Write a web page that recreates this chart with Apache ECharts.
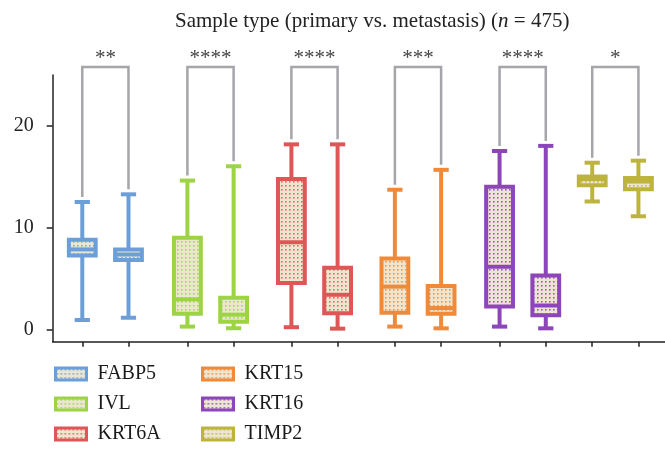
<!DOCTYPE html>
<html>
<head>
<meta charset="utf-8">
<script src="https://cdn.jsdelivr.net/npm/echarts@6/dist/echarts.min.js"></script>
<style>
  html, body { margin: 0; padding: 0; background: #ffffff; }
  #chart { width: 665px; height: 454px; }
</style>
</head>
<body>
<div id="chart"></div>
<script>
// Genes compared between primary tumours and metastases
const genes = ['FABP5', 'IVL', 'KRT6A', 'KRT15', 'KRT16', 'TIMP2'];
const geneColors = ['#6c9fd8', '#9cd444', '#e05656', '#ef8a3a', '#8d45ba', '#bdb43e'];

// Five-number summaries per gene: [min, q1, median, q3, max]
const primary = [
  [0.98, 7.3, 7.9, 8.85, 12.55],
  [0.33, 1.6, 3.0, 9.05, 14.65],
  [0.27, 4.6, 8.6, 14.8, 18.2],
  [0.33, 1.7, 4.25, 7.0, 13.75],
  [0.33, 2.3, 6.2, 14.05, 17.55],
  [12.6, 14.2, 14.8, 15.05, 16.4]
];
const metastasis = [
  [1.2, 6.85, 7.4, 7.9, 13.3],
  [0.17, 0.8, 1.5, 3.15, 16.05],
  [0.13, 1.65, 3.45, 6.1, 18.2],
  [0.16, 1.6, 2.15, 4.3, 15.7],
  [0.16, 1.45, 2.4, 5.35, 18.05],
  [11.15, 13.8, 14.55, 14.9, 16.6]
];
const significance = ['**', '****', '****', '***', '****', '*'];
const yTicks = [0, 10, 20];

// Layout of the x scale: centre of each gene's pair and half the pair spacing
const groupCenters = [1.14, 3.415, 5.665, 7.905, 10.17, 12.175];
const pairOffset = 0.5;
const boxWidth = 0.58;
const capWidth = 0.33;
const strokeW = 4;
const serif = '"Liberation Serif", "DejaVu Serif", serif';

function dotPattern(color) {
  const c = document.createElement('canvas');
  c.width = 4; c.height = 4;
  const g = c.getContext('2d');
  g.fillStyle = '#ece5d0';
  g.fillRect(0, 0, 4, 4);
  g.globalAlpha = 0.85;
  g.fillStyle = color;
  g.fillRect(1, 1, 1.6, 1.6);
  return { image: c, repeat: 'repeat' };
}
const patterns = geneColors.map(dotPattern);

const tickPositions = [];
groupCenters.forEach(c => { tickPositions.push(c - pairOffset, c + pairOffset); });

function boxRenderer(gi) {
  const color = geneColors[gi];
  return function (params, api) {
    const xv = api.value(0);
    const cx = api.coord([xv, 0])[0];
    const py = v => api.coord([xv, v])[1];
    const yMin = py(api.value(1)), yQ1 = py(api.value(2)), yMed = py(api.value(3));
    const yQ3 = py(api.value(4)), yMax = py(api.value(5));
    const w = api.size([boxWidth, 0])[0];
    const cw = api.size([capWidth, 0])[0];
    const line = (x1, y1, x2, y2) => ({
      type: 'line', shape: { x1, y1, x2, y2 },
      style: { stroke: color, lineWidth: strokeW, lineCap: 'butt' }
    });
    return {
      type: 'group',
      children: [
        line(cx, yMax, cx, yQ3),
        line(cx, yQ1, cx, yMin),
        line(cx - cw / 2, yMax, cx + cw / 2, yMax),
        line(cx - cw / 2, yMin, cx + cw / 2, yMin),
        {
          type: 'rect',
          shape: { x: cx - w / 2, y: yQ3, width: w, height: yQ1 - yQ3 },
          style: { fill: patterns[gi], stroke: color, lineWidth: strokeW }
        },
        line(cx - w / 2, yMed, cx + w / 2, yMed)
      ]
    };
  };
}

const boxSeries = genes.map((name, gi) => ({
  name: name,
  type: 'custom',
  itemStyle: { color: geneColors[gi] },
  encode: { x: 0, y: [1, 2, 3, 4, 5] },
  data: [
    [groupCenters[gi] - pairOffset].concat(primary[gi]),
    [groupCenters[gi] + pairOffset].concat(metastasis[gi])
  ],
  renderItem: boxRenderer(gi),
  clip: false,
  z: 3
}));

const bracketData = genes.map((g, gi) => [groupCenters[gi], primary[gi][4], metastasis[gi][4], gi]);
const bracketSeries = {
  type: 'custom',
  name: 'brackets',
  silent: true,
  clip: false,
  encode: { x: 0, y: [1, 2] },
  data: bracketData,
  renderItem: function (params, api) {
    const c = api.value(0);
    const gi = api.value(3);
    const xl = api.coord([c - pairOffset, 0])[0];
    const xr = api.coord([c + pairOffset, 0])[0];
    const topY = api.coord([c, 25])[1] - 8;
    const yl = api.coord([c, api.value(1)])[1] - 5;
    const yr = api.coord([c, api.value(2)])[1] - 5;
    return {
      type: 'group',
      children: [
        {
          type: 'polyline',
          shape: { points: [[xl, yl], [xl, topY], [xr, topY], [xr, yr]] },
          style: { stroke: '#a5a5aa', lineWidth: 2.5, fill: null }
        },
        {
          type: 'text',
          x: (xl + xr) / 2, y: topY - 9,
          style: {
            text: significance[gi], fill: '#444', font: '21px ' + serif,
            align: 'center', verticalAlign: 'middle'
          }
        }
      ]
    };
  },
  z: 2
};

function legendFor(list, left) {
  return {
    orient: 'vertical',
    left: left,
    top: 364,
    padding: 0,
    itemWidth: 31,
    itemHeight: 12,
    itemGap: 10,
    icon: 'rect',
    selectedMode: false,
    textStyle: { fontFamily: serif, fontSize: 20, color: '#1a1a1a', padding: [0, 0, 0, 6] },
    data: list.map(name => {
      const gi = genes.indexOf(name);
      return {
        name: name,
        itemStyle: { color: patterns[gi], borderColor: geneColors[gi], borderWidth: 3 }
      };
    })
  };
}

const chart = echarts.init(document.getElementById('chart'), null, { renderer: 'canvas' });
chart.setOption({
  animation: false,
  backgroundColor: '#ffffff',
  title: {
    left: 170,
    top: 6,
    text: '{a|Sample type (primary vs. metastasis) (}{i|n}{a| = 475)}',
    textStyle: {
      fontWeight: 'normal',
      rich: {
        a: { fontFamily: serif, fontSize: 21, color: '#222', fontWeight: 'normal' },
        i: { fontFamily: serif, fontSize: 21, color: '#222', fontWeight: 'normal', fontStyle: 'italic' }
      }
    }
  },
  legend: [
    legendFor(genes.slice(0, 3), 54),
    legendFor(genes.slice(3), 201)
  ],
  grid: { left: 52.7, right: 0, top: 75, bottom: 112.3, containLabel: false },
  xAxis: {
    type: 'value',
    min: 0,
    max: 13.25,
    splitLine: { show: false },
    axisLine: { onZero: false, lineStyle: { color: '#222', width: 1.5 } },
    axisTick: { show: true, length: 5, customValues: tickPositions, lineStyle: { color: '#222', width: 1.5 } },
    axisLabel: { show: false }
  },
  yAxis: {
    type: 'value',
    min: -1.15,
    max: 25,
    splitLine: { show: false },
    axisLine: { show: true, lineStyle: { color: '#222', width: 1.5 } },
    axisTick: { show: true, length: 6, customValues: yTicks, lineStyle: { color: '#222', width: 1.5 } },
    axisLabel: {
      customValues: yTicks,
      margin: 19,
      fontFamily: serif,
      fontSize: 20,
      color: '#222'
    }
  },
  series: boxSeries.concat([bracketSeries])
});
</script>
</body>
</html>
